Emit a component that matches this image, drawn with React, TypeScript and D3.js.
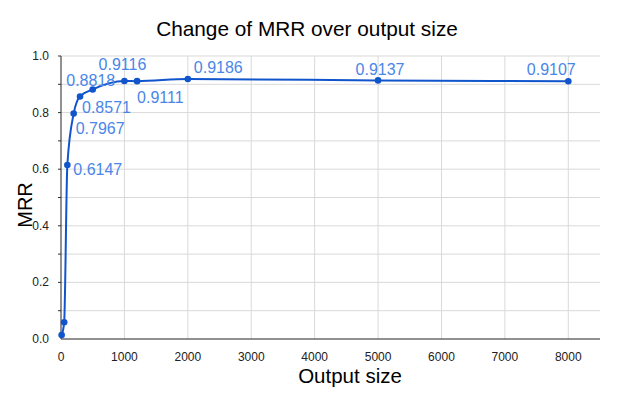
import React from "react";
import * as d3 from "d3";

const outputSizes = [10, 50, 100, 200, 300, 500, 1000, 1200, 2000, 5000, 8000];
const mrrValues = [0.014, 0.059, 0.6147, 0.7967, 0.8571, 0.8818, 0.9116, 0.9111, 0.9186, 0.9137, 0.9107];
const showLabel = [false, false, true, true, true, true, true, true, true, true, true];
// label placement: [dx, dy, anchor]
const labelPlacement: [number, number, string][] = [
  [0, 0, "start"], [0, 0, "start"],
  [6, 10, "start"], [2, 20, "start"], [2, 17, "start"], [-2, -3, "middle"],
  [-2, -11, "middle"], [0, 22, "start"], [6, -6, "start"], [2, -5, "middle"], [-17, -6, "middle"],
];
const xTicks = [0, 1000, 2000, 3000, 4000, 5000, 6000, 7000, 8000];
const yTicksLabeled = [0, 0.2, 0.4, 0.6, 0.8, 1.0];
const yGrid = [0.1, 0.2, 0.3, 0.4, 0.5, 0.6, 0.7, 0.8, 0.9, 1.0];

const W = 623, H = 393;
const left = 61, right = 600, top = 56, bottom = 339;

export default function App() {
  const x = d3.scaleLinear().domain([0, 8500]).range([left, right]);
  const y = d3.scaleLinear().domain([0, 1]).range([bottom, top]);
  const pts = outputSizes.map((s, i) => [x(s), y(mrrValues[i])] as [number, number]);
  const line = d3.line().curve(d3.curveMonotoneX)(pts) || "";
  const font = "Liberation Sans, Arial, sans-serif";
  return (
    <svg width={W} height={H} style={{ position: "absolute", left: 0, top: 0, background: "#fff" }} fontFamily={font}>
      <rect width={W} height={H} fill="#fff" />
      <text x={307} y={36} textAnchor="middle" fontSize={20.8} fill="#000">Change of MRR over output size</text>
      {yGrid.map((v) => (
        <line key={"gy" + v} x1={left} x2={right} y1={y(v)} y2={y(v)} stroke="#d9d9d9" strokeWidth={1} />
      ))}
      {xTicks.filter((t) => t > 0).map((t) => (
        <line key={"gx" + t} x1={x(t)} x2={x(t)} y1={top} y2={bottom} stroke="#d9d9d9" strokeWidth={1} />
      ))}
      {yGrid.map((v) => (
        <line key={"tk" + v} x1={left - 3} x2={left} y1={y(v)} y2={y(v)} stroke="#333" strokeWidth={1} />
      ))}
      <line x1={left} x2={left} y1={top} y2={bottom} stroke="#222" strokeWidth={1} />
      <line x1={left} x2={right} y1={bottom} y2={bottom} stroke="#222" strokeWidth={1} />
      {yTicksLabeled.map((v) => (
        <text key={"yl" + v} x={49} y={y(v) + 4} textAnchor="end" fontSize={12} fill="#222">{v.toFixed(1)}</text>
      ))}
      {xTicks.map((t) => (
        <text key={"xl" + t} x={x(t)} y={361} textAnchor="middle" fontSize={12} fill="#222">{t}</text>
      ))}
      <text x={350} y={383} textAnchor="middle" fontSize={20.5} fill="#000">Output size</text>
      <text transform={`translate(32,205) rotate(-90)`} textAnchor="middle" fontSize={20} fill="#000">MRR</text>
      <path d={line} fill="none" stroke="#1155cc" strokeWidth={2} />
      {pts.map((p, i) => (
        <circle key={"c" + i} cx={p[0]} cy={p[1]} r={3.3} fill="#1155cc" />
      ))}
      {pts.map((p, i) =>
        showLabel[i] ? (
          <text key={"l" + i} x={p[0] + labelPlacement[i][0]} y={p[1] + labelPlacement[i][1]} textAnchor={labelPlacement[i][2]} fontSize={16} fill="#4a86e8">
            {mrrValues[i].toFixed(4)}
          </text>
        ) : null
      )}
    </svg>
  );
}
